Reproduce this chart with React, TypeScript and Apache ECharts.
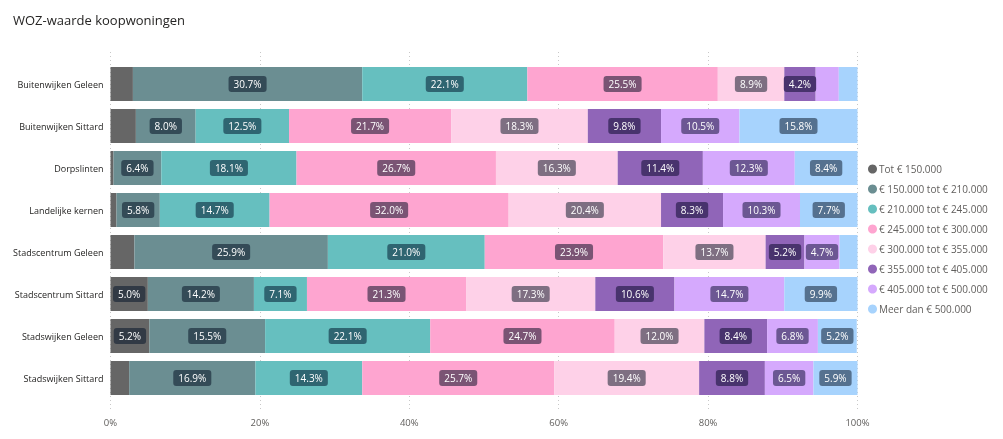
import React, { useEffect, useRef } from "react";
import * as echarts from "echarts";

const categories = [
  "Buitenwijken Geleen",
  "Buitenwijken Sittard",
  "Dorpslinten",
  "Landelijke kernen",
  "Stadscentrum Geleen",
  "Stadscentrum Sittard",
  "Stadswijken Geleen",
  "Stadswijken Sittard",
];

const seriesNames = [
  "Tot € 150.000",
  "€ 150.000 tot € 210.000",
  "€ 210.000 tot € 245.000",
  "€ 245.000 tot € 300.000",
  "€ 300.000 tot € 355.000",
  "€ 355.000 tot € 405.000",
  "€ 405.000 tot € 500.000",
  "Meer dan € 500.000",
];

const tot150 = [3.0, 3.4, 0.4, 0.8, 3.2, 5.0, 5.2, 2.5];
const s150to210 = [30.7, 8.0, 6.4, 5.8, 25.9, 14.2, 15.5, 16.9];
const s210to245 = [22.1, 12.5, 18.1, 14.7, 21.0, 7.1, 22.1, 14.3];
const s245to300 = [25.5, 21.7, 26.7, 32.0, 23.9, 21.3, 24.7, 25.7];
const s300to355 = [8.9, 18.3, 16.3, 20.4, 13.7, 17.3, 12.0, 19.4];
const s355to405 = [4.2, 9.8, 11.4, 8.3, 5.2, 10.6, 8.4, 8.8];
const s405to500 = [3.1, 10.5, 12.3, 10.3, 4.7, 14.7, 6.8, 6.5];
const meer500 = [2.5, 15.8, 8.4, 7.7, 2.4, 9.9, 5.2, 5.9];

const seriesValues = [tot150, s150to210, s210to245, s245to300, s300to355, s355to405, s405to500, meer500];

const colors = ["#666666", "#6b8e92", "#66bfbf", "#fea5d0", "#fed1e8", "#9065b8", "#d5a9fd", "#a7d3fd"];
const labelColors = ["#323a45", "#344b57", "#2f6571", "#7a5474", "#7e6f82", "#48336d", "#6c5793", "#55718f"];

const xTicks = [0, 20, 40, 60, 80, 100];

const FONT = "'Open Sans', 'Noto Sans', sans-serif";

export default function App() {
  const ref = useRef<HTMLDivElement>(null);

  useEffect(() => {
    if (!ref.current) return;
    const chart = echarts.init(ref.current, undefined, { renderer: "svg" });
    const left = 110.5;
    const right = 145.5;

    const barSeries = seriesNames.map((name, i) => ({
      name,
      type: "bar",
      stack: "total",
      xAxisIndex: 0,
      yAxisIndex: 0,
      barWidth: 34,
      itemStyle: { color: colors[i] },
      label: {
        show: true,
        position: "inside",
        formatter: (p: any) => Number(p.value).toFixed(1) + "%",
        color: "#ffffff",
        fontSize: 10,
        fontFamily: FONT,
        backgroundColor: labelColors[i],
        borderRadius: 3,
        padding: [3, 5, 3, 5],
      },
      data: seriesValues[i].map((v) => ({ value: v, label: { show: v >= 4 } })),
    }));

    chart.setOption({
      animation: false,
      textStyle: { fontFamily: FONT },
      title: {
        text: "WOZ-waarde koopwoningen",
        left: 8,
        top: 8,
        textStyle: { fontSize: 13, fontWeight: "normal", color: "#252423", fontFamily: FONT },
      },
      legend: {
        orient: "vertical",
        left: 868,
        top: 162,
        icon: "circle",
        itemWidth: 9,
        itemHeight: 9,
        itemGap: 6,
        padding: 0,
        data: seriesNames,
        textStyle: { color: "#605e5c", fontSize: 10, lineHeight: 14, fontFamily: FONT, padding: [0, 0, 0, -3] },
      },
      grid: [
        { left, right, top: 63, bottom: 40 },
        { left, right, top: 52, bottom: 27 },
      ],
      xAxis: [
        { type: "value", gridIndex: 0, min: 0, max: 100, show: false },
        {
          type: "value",
          gridIndex: 1,
          min: 0,
          max: 100,
          interval: 20,
          axisLine: { show: false },
          axisTick: { show: false },
          axisLabel: {
            color: "#605e5c",
            fontSize: 9.5,
            fontFamily: FONT,
            margin: 5,
            formatter: (v: number) => (xTicks.includes(v) ? v + "%" : ""),
          },
          splitLine: { show: true, lineStyle: { color: "#c8c8c8", type: [1, 3], width: 1 } },
        },
      ],
      yAxis: [
        {
          type: "category",
          gridIndex: 0,
          inverse: true,
          data: categories,
          axisLine: { show: false },
          axisTick: { show: false },
          axisLabel: { color: "#252423", fontSize: 9, fontFamily: FONT, margin: 7 },
        },
        { type: "value", gridIndex: 1, min: 0, max: 1, show: false },
      ],
      series: [
        { type: "scatter", xAxisIndex: 1, yAxisIndex: 1, data: [], silent: true },
        ...barSeries,
      ],
    });
    return () => chart.dispose();
  }, []);

  return <div ref={ref} style={{ position: "fixed", left: 0, top: 0, width: 1003, height: 439 }} />;
}
